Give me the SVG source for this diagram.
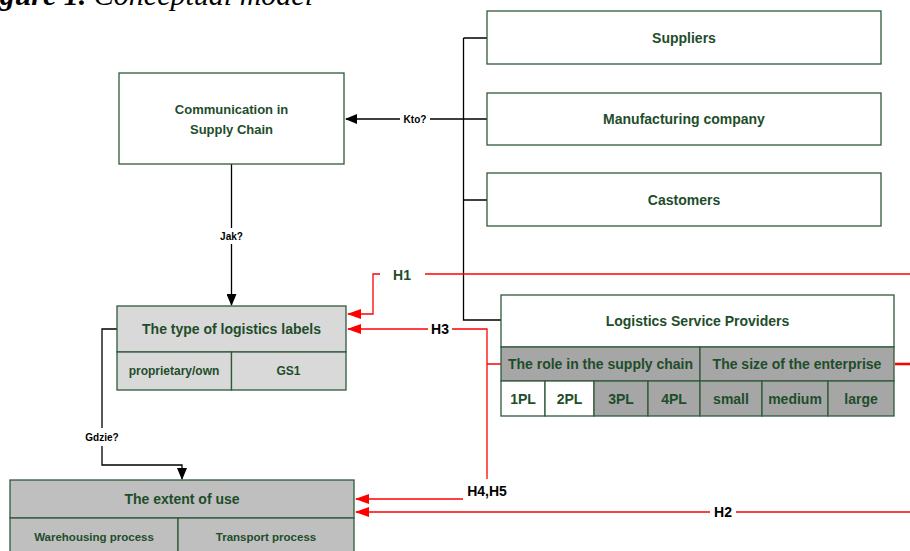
<svg xmlns="http://www.w3.org/2000/svg" width="910" height="551" viewBox="0 0 910 551">
<style>
.t{font-family:"Liberation Sans",Arial,sans-serif;font-weight:bold;fill:#1e4d2b;text-anchor:middle;dominant-baseline:central}
.k{font-family:"Liberation Sans",Arial,sans-serif;font-weight:bold;fill:#000;text-anchor:middle;dominant-baseline:central}
.box{stroke:#2f5a3a;stroke-width:1.3}
.w{fill:#fff}.g1{fill:#d9d9d9}.g2{fill:#bfbfbf}.g3{fill:#a6a6a6}
.bl{stroke:#000;stroke-width:1.3;fill:none}
.rd{stroke:#ff0000;stroke-width:1.3;fill:none}
</style>
<defs>
<marker id="ab" markerWidth="12" markerHeight="10" refX="11" refY="5" orient="auto" markerUnits="userSpaceOnUse"><path d="M0,0 L12,5 L0,10 z" fill="#000"/></marker>
<marker id="ar" markerWidth="14" markerHeight="10" refX="13" refY="5" orient="auto" markerUnits="userSpaceOnUse"><path d="M0,0 L14,5 L0,10 z" fill="#ff0000"/></marker>
</defs>
<text x="313" y="5" font-family="'Liberation Serif',serif" font-size="30" text-anchor="end" font-style="italic"><tspan font-weight="bold">Figure 1.</tspan> Conceptual model</text>

<g id="connectors">
<path class="bl" d="M463.5,38 H487 M463.5,119 H487 M463.5,200 H487 M463.5,38 V320 H501"/>
<path class="bl" d="M463.5,119 H430 M400,119 H346" marker-end="url(#ab)"/>
<path class="bl" d="M231.5,164 V228 M231.5,244 V305" marker-end="url(#ab)"/>
<path class="bl" d="M117,329 H102 V428 M102,446 V465 H182 V479" marker-end="url(#ab)"/>
<path class="rd" d="M425,274 H910"/>
<path class="rd" d="M380,274 H373 V314 H348" marker-end="url(#ar)"/>
<path class="rd" d="M428,329 H348" marker-end="url(#ar)"/>
<path class="rd" d="M452,329 H487 V479 M487,364 H501"/>
<path class="rd" d="M463,499 H356" marker-end="url(#ar)"/>
<path class="rd" d="M910,512 H736 M710,512 H356" marker-end="url(#ar)" stroke="#ff4040"/>
<path d="M895,364 H910" stroke="#ff0000" stroke-width="2.5"/>
<text class="k" x="415" y="119" font-size="10">Kto?</text>
<text class="k" x="231.5" y="236" font-size="10">Jak?</text>
<text class="k" x="102" y="437" font-size="10">Gdzie?</text>
<text class="t" x="402" y="275" font-size="14">H1</text>
<text class="k" x="440" y="329" font-size="14">H3</text>
<text class="k" x="487" y="491" font-size="14">H4,H5</text>
<text class="k" x="723" y="512" font-size="14">H2</text>
</g>

<g id="communication">
<rect class="box w" x="119" y="73" width="225" height="91"/>
<text class="t" x="231.5" y="109" font-size="13">Communication in</text>
<text class="t" x="231.5" y="129" font-size="13">Supply Chain</text>
</g>

<g id="suppliers">
<rect class="box w" x="487" y="11" width="394" height="53"/>
<text class="t" x="684" y="38" font-size="14">Suppliers</text>
</g>
<g id="manufacturing">
<rect class="box w" x="487" y="93" width="394" height="52"/>
<text class="t" x="684" y="119" font-size="14">Manufacturing company</text>
</g>
<g id="castomers">
<rect class="box w" x="487" y="173" width="394" height="53"/>
<text class="t" x="684" y="200" font-size="14">Castomers</text>
</g>

<g id="labels">
<rect class="box g1" x="117" y="306" width="229" height="46"/>
<rect class="box g1" x="117" y="352" width="114.5" height="38"/>
<rect class="box g1" x="231.5" y="352" width="114.5" height="38"/>
<text class="t" x="231.5" y="329" font-size="14">The type of logistics labels</text>
<text class="t" x="174" y="371" font-size="12">proprietary/own</text>
<text class="t" x="288.5" y="371" font-size="12">GS1</text>
</g>

<g id="extent">
<rect class="box g2" x="10" y="480" width="344" height="38"/>
<rect class="box g2" x="10" y="518" width="168" height="40"/>
<rect class="box g2" x="178" y="518" width="176" height="40"/>
<text class="t" x="182" y="499" font-size="14">The extent of use</text>
<text class="t" x="94" y="537" font-size="11.5">Warehousing process</text>
<text class="t" x="266" y="537" font-size="11.5">Transport process</text>
</g>

<g id="lsp">
<rect class="box w" x="501" y="295" width="393" height="52"/>
<text class="t" x="697.5" y="321" font-size="14">Logistics Service Providers</text>
<rect class="box g3" x="501" y="347" width="199" height="34"/>
<rect class="box g3" x="700" y="347" width="194" height="34"/>
<text class="t" x="600.5" y="364" font-size="14">The role in the supply chain</text>
<text class="t" x="797" y="364" font-size="14">The size of the enterprise</text>
<rect class="box w" x="501" y="381" width="44" height="35"/>
<rect class="box w" x="545" y="381" width="49" height="35"/>
<rect class="box g3" x="594" y="381" width="54" height="35"/>
<rect class="box g3" x="648" y="381" width="52" height="35"/>
<rect class="box g3" x="700" y="381" width="62" height="35"/>
<rect class="box g3" x="762" y="381" width="66" height="35"/>
<rect class="box g3" x="828" y="381" width="66" height="35"/>
<text class="t" x="523" y="399" font-size="14">1PL</text>
<text class="t" x="569.5" y="399" font-size="14">2PL</text>
<text class="t" x="621" y="399" font-size="14">3PL</text>
<text class="t" x="674" y="399" font-size="14">4PL</text>
<text class="t" x="731" y="399" font-size="14">small</text>
<text class="t" x="795" y="399" font-size="14">medium</text>
<text class="t" x="861" y="399" font-size="14">large</text>
</g>
</svg>
